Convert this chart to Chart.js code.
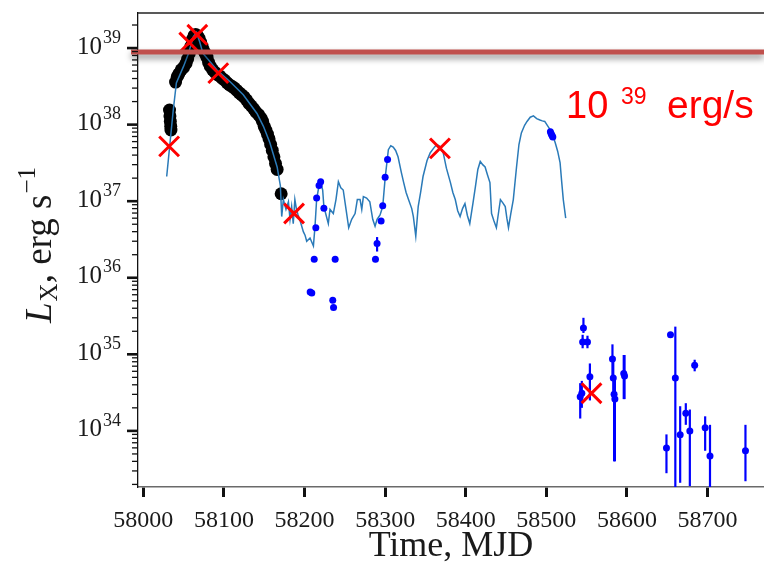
<!DOCTYPE html>
<html>
<head>
<meta charset="utf-8">
<script src="https://cdn.jsdelivr.net/npm/chart.js@4"></script>
<style>
  html, body { margin: 0; padding: 0; background: #fff; }
</style>
</head>
<body>
<canvas id="lc" width="764" height="565"></canvas>
<script>
// monitoring light curve (thin blue line)
const curveMjd = [58029, 58033, 58037, 58041, 58050, 58056, 58062, 58066, 58070, 58074, 58081, 58091, 58108, 58124, 58141, 58149, 58157, 58166, 58170, 58171.7,
  58173.7, 58177, 58180, 58182, 58184, 58186, 58188, 58190, 58192, 58194, 58198.5, 58200.6, 58202.7, 58206.8, 58211, 58213, 58215, 58217, 58220, 58222.5,
  58224, 58226.7, 58229.5, 58231.6, 58235.7, 58239, 58242, 58245, 58248, 58251.5, 58254.8, 58258.5, 58262.7, 58265.5, 58268.9, 58271, 58273, 58277, 58281, 58284.6,
  58287.5, 58290, 58293.7, 58297, 58300, 58304, 58307, 58310, 58313, 58316, 58320, 58323, 58326, 58329, 58333, 58335, 58338, 58341, 58344, 58347,
  58352, 58356, 58360, 58364, 58368, 58372, 58376, 58381, 58384, 58387, 58390, 58393, 58396, 58399, 58402, 58405, 58409, 58412, 58415, 58418,
  58421, 58424, 58427, 58430, 58432, 58435, 58438, 58441, 58443, 58446, 58449, 58451, 58453, 58456, 58459, 58463, 58466, 58469, 58473, 58476,
  58480, 58484, 58488, 58492, 58495, 58498, 58502, 58505, 58508, 58511, 58514, 58517, 58519, 58521, 58524];
const curveL = [2.1e37, 5.6e37, 1.5e38, 3.5e38, 5.8e38, 8.5e38, 1.4e39, 1.6e39, 1.2e39, 8.5e38, 7e38, 5.2e38, 3.6e38, 2.45e38, 1.4e38, 9.5e37, 5.8e37, 2.8e37, 1.6e37, 6.3e36,
  1.05e37, 7.8e36, 9.8e36, 5.8e36, 8.5e36, 5.1e36, 1.05e37, 7.8e36, 6.6e36, 5.8e36, 4.0e36, 3.6e36, 3.0e36, 3.3e36, 2.6e36, 4.7e36, 1.05e37, 1.4e37, 1.8e37, 1.4e37,
  8.5e36, 6.6e36, 5.1e36, 7.8e36, 6.9e36, 1.05e37, 1.8e37, 1.5e37, 1.4e37, 7.8e36, 4.5e36, 5.8e36, 6.9e36, 1.05e37, 1.05e37, 7.8e36, 1.15e37, 1.1e37, 9.8e36, 5.8e36,
  4.7e36, 5.8e36, 6.6e36, 8.5e36, 2.0e37, 4.7e37, 5.3e37, 5.1e37, 4.6e37, 3.8e37, 2.4e37, 1.75e37, 1.3e37, 1.05e37, 8.0e36, 6.3e36, 3.5e36, 8.5e36, 1.3e37, 2.1e37,
  3.4e37, 4.3e37, 4.9e37, 5.5e37, 5.2e37, 4.3e37, 2.7e37, 1.75e37, 1.3e37, 1.05e37, 7.5e36, 6.3e36, 8.0e36, 9.3e36, 6.5e36, 5.1e36, 9.5e36, 1.55e37, 2.6e37, 3.3e37,
  3.0e37, 2.8e37, 2.2e37, 1.75e37, 6.9e36, 5.5e36, 4.5e36, 7.5e36, 1.05e37, 9.5e36, 8.5e36, 6.0e36, 4.5e36, 7.0e36, 1.05e37, 2.8e37, 5.5e37, 7.8e37, 9.8e37, 1.1e38,
  1.25e38, 1.3e38, 1.2e38, 1.15e38, 1.12e38, 1.1e38, 9.5e37, 8.5e37, 7.2e37, 5.8e37, 4.5e37, 3.2e37, 1.8e37, 1.05e37, 6e36];

// dense observations (black circles)
const denseMjd = [58032.5, 58033, 58033.5, 58034, 58034.3, 58040, 58042, 58044, 58047, 58050, 58053, 58055, 58057, 58059, 58061, 58063, 58065, 58067, 58069, 58071,
  58073, 58075, 58077, 58079, 58081, 58083, 58086, 58089, 58092, 58095, 58098, 58101, 58104, 58107, 58110, 58113, 58116, 58119, 58122, 58125,
  58128, 58131, 58134, 58137, 58140, 58143, 58146, 58148, 58150, 58152, 58154, 58156, 58158, 58160, 58162, 58164, 58166, 58171];
const denseL = [1.55e38, 1.3e38, 1.1e38, 9.5e37, 8.5e37, 3.6e38, 4.2e38, 4.6e38, 5.2e38, 5.6e38, 6.3e38, 7.2e38, 8.5e38, 1.05e39, 1.3e39, 1.45e39, 1.5e39, 1.45e39, 1.35e39, 1.2e39,
  1.05e39, 9.2e38, 8.4e38, 7.6e38, 6.5e38, 5.8e38, 5.2e38, 4.8e38, 4.5e38, 4.3e38, 4.0e38, 3.8e38, 3.5e38, 3.3e38, 3.15e38, 3.0e38, 2.8e38, 2.6e38, 2.45e38, 2.3e38,
  2.1e38, 1.9e38, 1.75e38, 1.6e38, 1.45e38, 1.35e38, 1.22e38, 1.1e38, 9.5e37, 8.5e37, 7.5e37, 6.5e37, 5.5e37, 4.6e37, 3.8e37, 3.1e37, 2.6e37, 1.25e37];

// pointed observations (blue dots) with error bars
const dotMjd = [58207, 58209, 58212, 58214, 58215, 58218, 58220, 58224, 58235, 58236, 58238, 58288, 58290, 58295, 58297, 58300, 58303,
  58505, 58506, 58507, 58508,
  58542, 58544, 58545, 58546, 58551, 58554, 58582, 58583, 58584, 58585, 58596, 58597,
  58649, 58654, 58660, 58666, 58673, 58678, 58684, 58697, 58703, 58747];
const dotL = [6.5e35, 6.3e35, 1.75e36, 4.5e36, 1.1e37, 1.6e37, 1.8e37, 8.1e36, 5.1e35, 4.1e35, 1.75e36, 1.75e36, 2.8e36, 5.5e36, 8.7e36, 2.05e37, 3.5e37,
  8.1e37, 7.6e37, 7.2e37, 6.9e37,
  2.8e34, 3.1e34, 1.45e35, 2.2e35, 1.45e35, 5.1e34, 8.7e34, 4.9e34, 3.0e34, 2.6e34, 5.6e34, 5.2e34,
  6e33, 1.8e35, 4.9e34, 8.9e33, 1.7e34, 1.0e34, 7.2e34, 1.1e34, 4.7e33, 5.5e33];
const dotLo = [6.3e35, 6.1e35, 1.65e36, 4.3e36, 1.05e37, 1.5e37, 1.7e37, 7.6e36, 4.8e35, 3.8e35, 1.6e36, 1.6e36, 2.2e36, 5.1e36, 8.2e36, 1.95e37, 3.3e37,
  7.8e37, 7.3e37, 6.9e37, 6.6e37,
  1.45e34, 2.0e34, 1.2e35, 1.9e35, 1.2e35, 2.5e34, 5.0e34, 3.0e34, 4.0e33, 4.0e33, 2.6e34, 2.6e34,
  2.8e33, 1.7e35, 1.0e33, 2.1e33, 1.2e34, 1.9e33, 6.0e34, 5.5e33, 1.4e33, 2.2e33];
const dotHi = [6.7e35, 6.5e35, 1.85e36, 4.7e36, 1.15e37, 1.7e37, 1.9e37, 8.6e36, 5.4e35, 4.4e35, 1.9e36, 1.9e36, 3.4e36, 5.9e36, 9.2e36, 2.15e37, 3.7e37,
  8.4e37, 7.9e37, 7.5e37, 7.2e37,
  4.2e34, 4.5e34, 1.8e35, 3.0e35, 1.75e35, 7.6e34, 1.35e35, 8.0e34, 5.0e34, 5.0e34, 9.8e34, 9.8e34,
  9.0e33, 1.9e35, 2.3e35, 2.1e34, 2.3e34, 1.9e34, 8.5e34, 1.55e34, 1.2e34, 1.2e34];

// marked epochs (red crosses)
const crossMjd = [58032, 58057, 58067, 58093, 58187, 58368, 58556];
const crossL = [5.2e37, 1.18e39, 1.49e39, 4.7e38, 6.9e36, 4.9e37, 3.1e34];

// threshold line and axis decades
const limitL = 8.9e38;
const yExps = [34, 35, 36, 37, 38, 39];

const pts = (xs, ys) => xs.map((x, i) => ({ x: x, y: ys[i] }));
const SERIF = '"Liberation Serif", "DejaVu Serif", serif';

const overlay = {
  id: 'overlay',
  beforeDatasetsDraw(chart) {
    const { ctx, chartArea: a, scales: { x, y } } = chart;
    ctx.save();
    ctx.beginPath();
    ctx.rect(a.left, a.top, a.right - a.left, a.bottom - a.top);
    ctx.clip();
    ctx.strokeStyle = '#0000ff';
    ctx.lineWidth = 2.2;
    for (let i = 0; i < dotMjd.length; i++) {
      const px = x.getPixelForValue(dotMjd[i]);
      ctx.beginPath();
      ctx.moveTo(px, y.getPixelForValue(dotLo[i]));
      ctx.lineTo(px, y.getPixelForValue(dotHi[i]));
      ctx.stroke();
    }
    ctx.restore();
  },
  afterDatasetsDraw(chart) {
    const { ctx, chartArea: a, scales: { y } } = chart;
    const py = y.getPixelForValue(limitL);
    ctx.save();
    ctx.shadowColor = 'rgba(0,0,0,0.45)';
    ctx.shadowBlur = 6;
    ctx.shadowOffsetY = 4;
    ctx.strokeStyle = '#c0504d';
    ctx.lineWidth = 5;
    ctx.beginPath();
    ctx.moveTo(a.left - 7, py);
    ctx.lineTo(a.right, py);
    ctx.stroke();
    ctx.restore();

    ctx.save();
    ctx.fillStyle = '#ff0000';
    ctx.textBaseline = 'alphabetic';
    ctx.textAlign = 'left';
    ctx.font = '38px "Liberation Sans", Arial, sans-serif';
    ctx.fillText('10', 566, 118);
    ctx.font = '23px "Liberation Sans", Arial, sans-serif';
    ctx.fillText('39', 621, 104);
    ctx.font = '39px "Liberation Sans", Arial, sans-serif';
    ctx.fillText('erg/s', 667, 118);
    ctx.restore();
  },
  afterDraw(chart) {
    const { ctx, chartArea: a, scales: { y } } = chart;
    ctx.save();
    // top spine
    ctx.strokeStyle = '#222';
    ctx.lineWidth = 1.3;
    ctx.beginPath();
    ctx.moveTo(a.left, a.top);
    ctx.lineTo(a.right, a.top);
    ctx.stroke();

    // y ticks (major + minor)
    ctx.strokeStyle = '#111';
    for (let e = 33; e <= 39; e++) {
      for (let k = 1; k <= 9; k++) {
        const v = k * Math.pow(10, e);
        if (v < y.min || v > y.max) continue;
        const p = y.getPixelForValue(v);
        const major = k === 1;
        ctx.lineWidth = major ? 2.6 : 1.3;
        ctx.beginPath();
        ctx.moveTo(a.left, p);
        ctx.lineTo(a.left - (major ? 11 : 6), p);
        ctx.stroke();
      }
    }

    // y tick labels 10^n
    ctx.fillStyle = '#1a1a1a';
    ctx.textBaseline = 'middle';
    ctx.textAlign = 'right';
    yExps.forEach(e => {
      const p = y.getPixelForValue(Math.pow(10, e));
      ctx.font = '18px ' + SERIF;
      const sw = ctx.measureText(String(e)).width;
      ctx.fillText(String(e), 121, p - 10);
      ctx.font = '25px ' + SERIF;
      ctx.fillText('10', 121 - sw - 1, p - 1);
    });

    // y title  L_X, erg s^-1
    const parts = [
      { t: 'L', f: 'italic 37px ' + SERIF, dy: 0, gap: 1 },
      { t: 'X', f: '25px ' + SERIF, dy: 6, gap: 0 },
      { t: ', erg s', f: '37px ' + SERIF, dy: 0, gap: 1 },
      { t: '\u22121', f: '25px ' + SERIF, dy: -16, gap: 0 }
    ];
    let total = 0;
    parts.forEach(p => { ctx.font = p.f; p.w = ctx.measureText(p.t).width + p.gap; total += p.w; });
    ctx.translate(40, 245);
    ctx.rotate(-Math.PI / 2);
    ctx.textAlign = 'left';
    ctx.textBaseline = 'alphabetic';
    let cx = -total / 2;
    parts.forEach(p => {
      ctx.font = p.f;
      ctx.fillText(p.t, cx, 11 + p.dy);
      cx += p.w;
    });
    ctx.restore();
  }
};

new Chart(document.getElementById('lc'), {
  type: 'scatter',
  data: {
    datasets: [
      {
        label: 'marked',
        data: pts(crossMjd, crossL),
        pointStyle: 'crossRot',
        pointRadius: 14,
        borderColor: '#ff0000',
        pointBorderWidth: 3,
        order: 0
      },
      {
        label: 'pointed',
        data: pts(dotMjd, dotL),
        pointStyle: 'circle',
        pointRadius: 3.5,
        backgroundColor: '#0000ff',
        borderWidth: 0,
        order: 1
      },
      {
        label: 'monitor',
        data: pts(curveMjd, curveL),
        showLine: true,
        borderColor: '#2a7ab8',
        borderWidth: 1.5,
        pointRadius: 0,
        tension: 0,
        order: 2
      },
      {
        label: 'dense',
        data: pts(denseMjd, denseL),
        pointStyle: 'circle',
        pointRadius: 6.5,
        backgroundColor: '#000000',
        borderWidth: 0,
        order: 3
      }
    ]
  },
  options: {
    responsive: false,
    animation: false,
    layout: { autoPadding: false, padding: { top: 13, right: 0, left: 0, bottom: 0 } },
    plugins: { legend: { display: false }, tooltip: { enabled: false } },
    scales: {
      x: {
        type: 'linear',
        min: 57993.4,
        max: 58770,
        afterFit: s => { s.height = 78; s.paddingLeft = 0; s.paddingRight = 0; },
        ticks: {
          stepSize: 100,
          includeBounds: false,
          autoSkip: false,
          maxRotation: 0,
          padding: 9,
          color: '#1a1a1a',
          font: { family: SERIF, size: 24 },
          callback: v => String(v)
        },
        grid: { drawOnChartArea: false, drawTicks: true, tickLength: 10, tickWidth: 3, tickColor: '#111' },
        border: { display: true, color: '#6a6a6a', width: 1.5 },
        title: {
          display: true,
          text: 'Time, MJD',
          color: '#1a1a1a',
          font: { family: SERIF, size: 36, lineHeight: 1 },
          padding: { top: 0, bottom: 0 }
        }
      },
      y: {
        type: 'logarithmic',
        min: 1.85e33,
        max: 2.87e39,
        afterFit: s => { s.width = 138; s.paddingTop = 0; s.paddingBottom = 0; },
        ticks: { display: false },
        grid: { display: false },
        border: { display: true, color: '#111', width: 1.3 }
      }
    }
  },
  plugins: [overlay]
});
</script>
</body>
</html>
